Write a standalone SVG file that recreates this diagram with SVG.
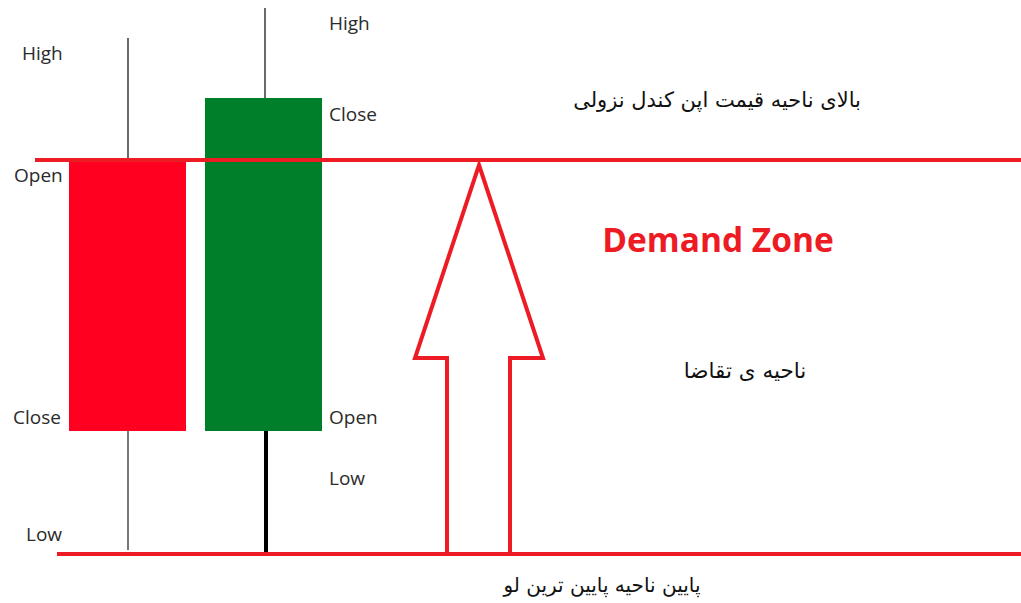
<svg xmlns="http://www.w3.org/2000/svg" width="1021" height="603" viewBox="0 0 1021 603">
<style>
.lbl{font-family:"Open Sans","Liberation Sans",sans-serif;font-size:19px;fill:#2b2b2b}
.fa{font-family:"DejaVu Sans","Noto Sans",sans-serif;fill:#111}
.zone{stroke:#ED1C24;stroke-width:4;fill:none}
</style>
<rect width="1021" height="603" fill="#fff"/>
<g id="bear-candle">
<line x1="128" y1="38" x2="128" y2="161" stroke="#444" stroke-width="1.6"/>
<line x1="128" y1="431" x2="128" y2="550" stroke="#555" stroke-width="1.6"/>
<rect x="69" y="161" width="117" height="270" fill="#FF0020"/>
</g>
<g id="bull-candle">
<line x1="265" y1="8" x2="265" y2="99" stroke="#444" stroke-width="1.6"/>
<line x1="266" y1="429" x2="266" y2="552" stroke="#000" stroke-width="4"/>
<rect x="205" y="98" width="117" height="333" fill="#007F2A"/>
</g>
<g id="connectors">
<line class="zone" x1="35" y1="160" x2="1021" y2="160"/>
<line class="zone" x1="57" y1="554" x2="1021" y2="554"/>
<polygon class="zone" stroke-width="3.5" stroke-linejoin="miter" points="479,165 543,358 510,358 510,554 447,554 447,358 415,358"/>
</g>
<g id="labels">
<text class="lbl" x="22" y="60">High</text>
<text class="lbl" x="329" y="30">High</text>
<text class="lbl" x="329" y="121">Close</text>
<text class="lbl" x="14" y="182">Open</text>
<text class="lbl" x="13" y="424">Close</text>
<text class="lbl" x="329" y="424">Open</text>
<text class="lbl" x="329" y="485">Low</text>
<text class="lbl" x="26" y="541">Low</text>
</g>
<g id="demand-zone">
<text x="718" y="252" text-anchor="middle" font-family="'Open Sans','Liberation Sans',sans-serif" font-weight="bold" font-size="33.5" fill="#ED1C24">Demand Zone</text>
</g>
<g id="persian">
<text class="fa" x="717" y="107" text-anchor="middle" direction="rtl" font-size="21">بالای ناحیه قیمت اپن کندل نزولی</text>
<text class="fa" x="745" y="378" text-anchor="middle" direction="rtl" font-size="21.5">ناحیه ی تقاضا</text>
<text class="fa" x="602" y="592" text-anchor="middle" direction="rtl" font-size="20">پایین ناحیه پایین ترین لو</text>
</g>
</svg>
